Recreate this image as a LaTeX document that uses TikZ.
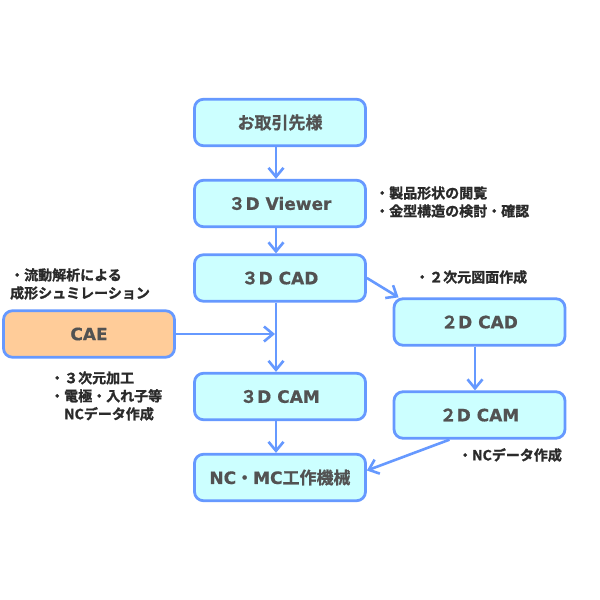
\documentclass[tikz,border=0pt]{standalone}
\usepackage{fontspec}
\newfontfamily\jp{Noto Sans CJK JP Bold}[FakeBold=0.8]
\newfontfamily\jpn{Noto Sans CJK JP Bold}[FakeBold=1.3]
\newfontfamily\lat{DejaVu Sans Bold}[FakeBold=0.6]
\usetikzlibrary{arrows.meta}
\definecolor{boxfill}{HTML}{CCFFFF}
\definecolor{boxline}{HTML}{6699FF}
\definecolor{caefill}{HTML}{FFCC99}
\definecolor{boxtext}{HTML}{525252}
\definecolor{notetext}{HTML}{2A2A2A}
\begin{document}
\begin{tikzpicture}[x=1pt,y=-1pt,
  proc/.style={draw=boxline, line width=2.8pt, fill=boxfill, rounded corners=9pt,
    minimum width=171pt, minimum height=46.5pt, inner sep=0pt, text=boxtext,
    font=\fontsize{17}{20}\selectfont},
  caebox/.style={proc, fill=caefill},
  note/.style={text=notetext, font=\jpn\fontsize{14}{18}\selectfont, align=left,
    inner sep=0pt, anchor=west},
  flow/.style={draw=boxline, line width=2.6pt, -{Straight Barb[length=9pt,width=15pt]}}]
\fill[white] (0,0) rectangle (600,600);
\useasboundingbox (0,0) rectangle (600,600);

\node[proc] (n1) at (280,122.5) {\jp お取引先様};
\node[proc] (n2) at (280,203.5) {{\jp ３}{\lat D Viewer}};
\node[proc] (n3) at (280,278) {{\jp ３}{\lat D CAD}};
\node[caebox] (cae) at (89,334) {\lat CAE};
\node[proc] (d2) at (479.5,322) {{\jp ２}{\lat D CAD}};
\node[proc] (m3) at (280,396.5) {{\jp ３}{\lat D CAM}};
\node[proc] (m2) at (479.5,415) {{\jp ２}{\lat D CAM}};
\node[proc] (nc) at (280,477.5) {{\lat NC}{\jp ・}{\lat MC}{\jp 工作機械}};

\coordinate (j) at (275,334);
\draw[flow] ([xshift=-4pt]n1.south) -- ([xshift=-4pt]n2.north);
\draw[flow] ([xshift=-4pt]n2.south) -- ([xshift=-4pt]n3.north);
\draw[flow] ([xshift=-4pt]n3.south) -- ([xshift=-4pt]m3.north);
\draw[flow] (cae.east) -- (j);
\draw[flow] (n3.east) -- ([xshift=6pt]d2.north west);
\draw[flow] ([xshift=-4.5pt]d2.south) -- ([xshift=-4.5pt]m2.north);
\draw[flow] ([xshift=-30pt]m2.south) -- ([yshift=7pt]nc.east);
\draw[flow] ([xshift=-4pt]m3.south) -- ([xshift=-4pt]nc.north);

\node[note] (v) at (375,202) {・製品形状の閲覧\\・金型構造の検討・確認};
\node[note] (f) at (10,284) {・流動解析による\\成形シュミレーション};
\node[note] (c) at (415,277) {・２次元図面作成};
\node[note] (p) at (50,396) {・３次元加工\\・電極・入れ子等\\　NCデータ作成};
\node[note] (q) at (458,455) {・NCデータ作成};
\end{tikzpicture}
\end{document}
